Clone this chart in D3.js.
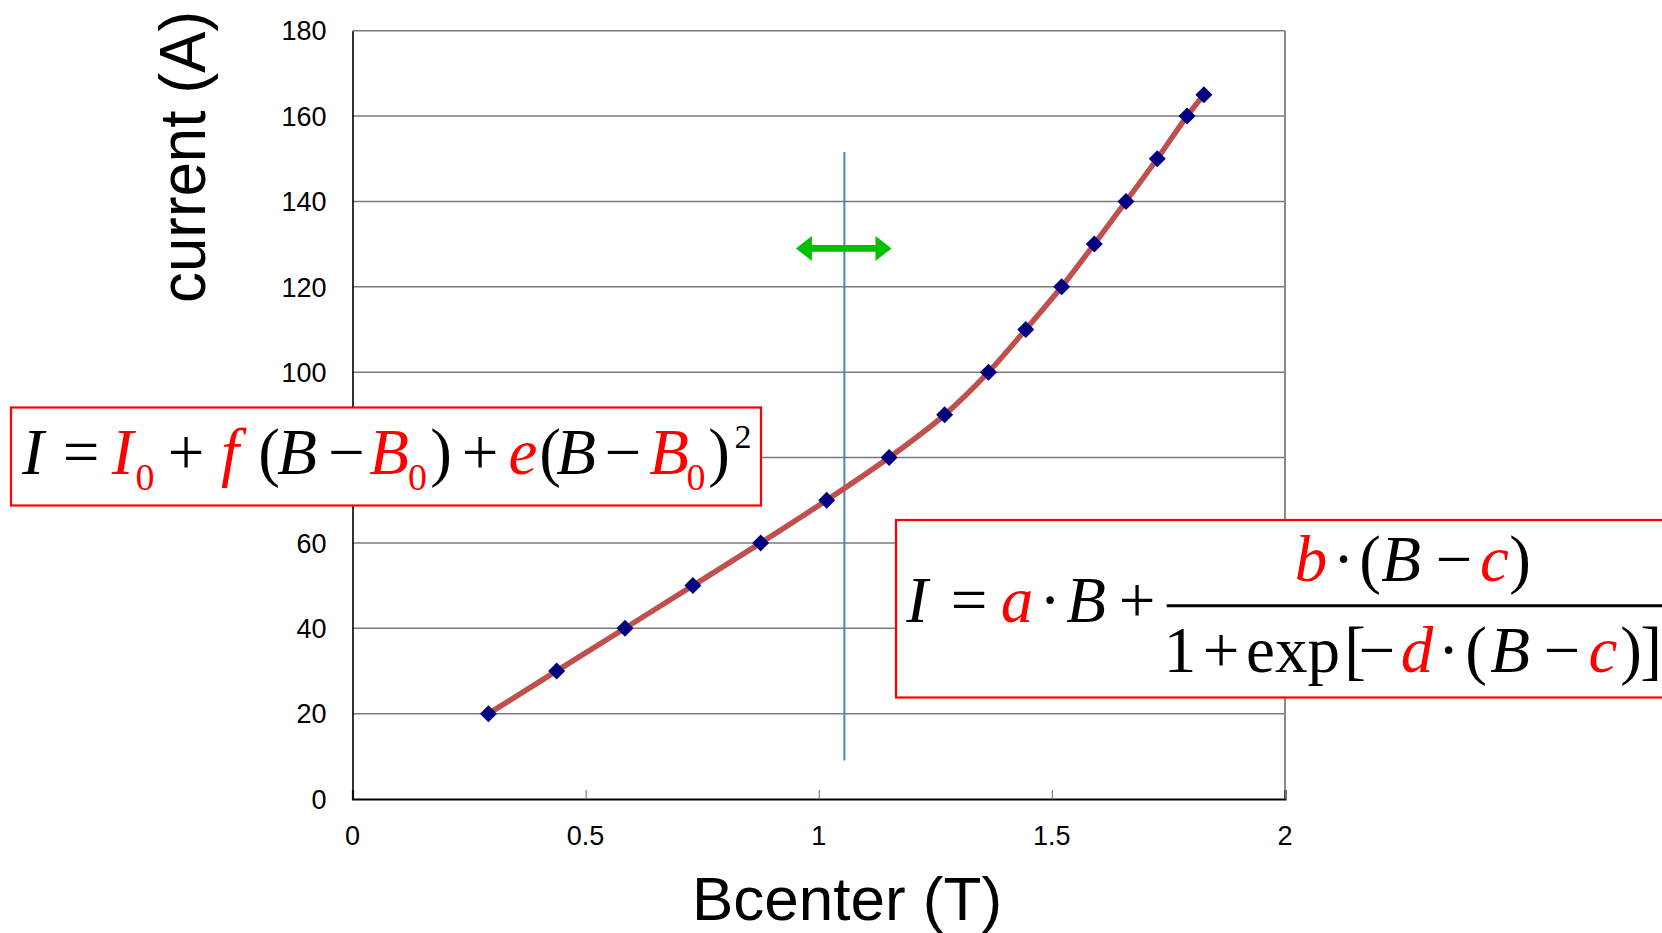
<!DOCTYPE html>
<html>
<head>
<meta charset="utf-8">
<script src="https://cdn.jsdelivr.net/npm/d3@7"></script>
<style>
  html, body { margin: 0; padding: 0; background: #ffffff; }
  svg { display: block; }
</style>
</head>
<body>
<svg id="chart" width="1662" height="933"></svg>
<script>
// Measured magnet excitation: field at centre (T) vs coil current (A)
const bCenter = [0.2915, 0.438, 0.5845, 0.730, 0.8755, 1.017, 1.151, 1.270,
                 1.364, 1.444, 1.521, 1.591, 1.659, 1.726, 1.790, 1.826];
const current = [20, 30, 40, 50, 60, 70, 80, 90,
                 100, 110, 120, 130, 140, 150, 160, 165];

const xTicks = [0, 0.5, 1, 1.5, 2];
const yTicks = [0, 20, 40, 60, 80, 100, 120, 140, 160, 180];

// Boundary between the two fit regions, and the range it may move over
const boundaryB = 1.055;
const boundaryI = [9, 151.6];
const shiftRangeB = [0.951, 1.156];
const shiftLevelI = 129;

const xTitle = "Bcenter (T)";
const yTitle = "current (A)";

const svg = d3.select("#chart");
const plot = { left: 352.5, right: 1285, top: 30.7, bottom: 799 };

const x = d3.scaleLinear().domain([0, 2]).range([plot.left, plot.right]);
const y = d3.scaleLinear().domain([0, 180]).range([plot.bottom, plot.top]);

const sans = "'Liberation Sans', Arial, sans-serif";
const serif = "'Liberation Serif', 'Times New Roman', serif";

// Horizontal gridlines
svg.append("g")
  .selectAll("line")
  .data(yTicks.filter(d => d > 0))
  .join("line")
  .attr("x1", plot.left).attr("x2", plot.right)
  .attr("y1", d => y(d)).attr("y2", d => y(d))
  .attr("stroke", "#7a7a7a").attr("stroke-width", 1.5);

// Right frame edge
svg.append("line")
  .attr("x1", plot.right).attr("x2", plot.right)
  .attr("y1", plot.top).attr("y2", plot.bottom)
  .attr("stroke", "#8c8c8c").attr("stroke-width", 2);

// Bottom axis with short inward ticks
const xAxis = svg.append("g")
  .attr("transform", `translate(0,${plot.bottom})`)
  .call(d3.axisBottom(x).tickValues(xTicks).tickSize(-9).tickFormat(""));
xAxis.select(".domain").attr("stroke", "#000").attr("stroke-width", 2.2);
xAxis.selectAll(".tick line").attr("stroke", "#7f7f7f").attr("stroke-width", 1.2);

// Left axis
const yAxis = svg.append("g")
  .attr("transform", `translate(${plot.left},0)`)
  .call(d3.axisLeft(y).tickValues(yTicks).tickSize(0).tickFormat(""));
yAxis.select(".domain").attr("stroke", "#000").attr("stroke-width", 1.6);

// Tick labels
svg.append("g")
  .selectAll("text")
  .data(yTicks)
  .join("text")
  .attr("x", plot.left - 26)
  .attr("y", d => y(d))
  .attr("dy", "0.36em")
  .attr("text-anchor", "end")
  .attr("font-family", sans).attr("font-size", 27)
  .attr("fill", "#000")
  .text(d => d);

svg.append("g")
  .selectAll("text")
  .data(xTicks)
  .join("text")
  .attr("x", d => x(d))
  .attr("y", 845)
  .attr("text-anchor", "middle")
  .attr("font-family", sans).attr("font-size", 27)
  .attr("fill", "#000")
  .text(d => d);

// Fit-region boundary
svg.append("line")
  .attr("x1", x(boundaryB)).attr("x2", x(boundaryB))
  .attr("y1", y(boundaryI[0])).attr("y2", y(boundaryI[1]))
  .attr("stroke", "#4f81bd").attr("stroke-width", 2);

// Double-headed arrow showing the boundary can move
(function drawArrow() {
  const x0 = x(shiftRangeB[0]), x1 = x(shiftRangeB[1]), yc = y(shiftLevelI);
  const head = 16, half = 12.5, shaft = 3.3;
  const p = [
    [x0, yc], [x0 + head, yc - half], [x0 + head, yc - shaft],
    [x1 - head, yc - shaft], [x1 - head, yc - half], [x1, yc],
    [x1 - head, yc + half], [x1 - head, yc + shaft], [x0 + head, yc + shaft],
    [x0 + head, yc + half]
  ];
  svg.append("path")
    .attr("d", "M" + p.map(d => d.join(",")).join("L") + "Z")
    .attr("fill", "#00c000");
})();

// Smoothed curve through measurements
const pts = bCenter.map((b, i) => [b, current[i]]);
svg.append("path")
  .datum(pts)
  .attr("d", d3.line().x(d => x(d[0])).y(d => y(d[1])).curve(d3.curveCatmullRom.alpha(0.5)))
  .attr("fill", "none")
  .attr("stroke", "#c0504d")
  .attr("stroke-width", 5.5)
  .attr("stroke-linejoin", "round")
  .attr("stroke-linecap", "round");

// Diamond markers
svg.append("g")
  .selectAll("path")
  .data(pts)
  .join("path")
  .attr("transform", d => `translate(${x(d[0])},${y(d[1])})`)
  .attr("d", "M0,-8.5L8.5,0L0,8.5L-8.5,0Z")
  .attr("fill", "#000080");

// Axis titles
svg.append("text")
  .attr("x", 847).attr("y", 920)
  .attr("text-anchor", "middle")
  .attr("font-family", sans).attr("font-size", 62)
  .attr("fill", "#000")
  .text(xTitle);

svg.append("text")
  .attr("transform", "translate(205,157) rotate(-90)")
  .attr("text-anchor", "middle")
  .attr("font-family", sans).attr("font-size", 64)
  .attr("textLength", 292).attr("lengthAdjust", "spacingAndGlyphs")
  .attr("fill", "#000")
  .text(yTitle);

// Equation boxes
const RED = "#ff0000", BLK = "#000000";
function writeTokens(g, tokens) {
  g.selectAll("text.tok")
    .data(tokens)
    .join("text")
    .attr("class", "tok")
    .attr("x", d => d.cx)
    .attr("y", d => d.by)
    .attr("text-anchor", "middle")
    .attr("font-family", serif)
    .attr("font-size", d => d.fs)
    .attr("font-style", d => d.it ? "italic" : "normal")
    .attr("fill", d => d.c)
    .text(d => d.t);
}

// Quadratic form  I = I0 + f(B - B0) + e(B - B0)^2
const eq1 = svg.append("g");
eq1.append("rect")
  .attr("x", 11).attr("y", 407.5).attr("width", 750).attr("height", 98)
  .attr("fill", "#fff").attr("stroke", RED).attr("stroke-width", 2.2);
const m1 = 474, s1 = 490, p1 = 448, F = 65, FS = 38, FP = 34;
writeTokens(eq1, [
  { t: "I", cx: 33, by: m1, fs: F, it: true, c: BLK },
  { t: "=", cx: 81, by: m1, fs: F, c: BLK },
  { t: "I", cx: 122.5, by: m1, fs: F, it: true, c: RED },
  { t: "0", cx: 145, by: s1, fs: FS, c: RED },
  { t: "+", cx: 186, by: m1, fs: F, c: BLK },
  { t: "f", cx: 230, by: m1, fs: F, it: true, c: RED },
  { t: "(", cx: 269, by: m1, fs: F, c: BLK },
  { t: "B", cx: 297, by: m1, fs: F, it: true, c: BLK },
  { t: "\u2212", cx: 346.7, by: m1, fs: F, c: BLK },
  { t: "B", cx: 389, by: m1, fs: F, it: true, c: RED },
  { t: "0", cx: 417.5, by: s1, fs: FS, c: RED },
  { t: ")", cx: 441, by: m1, fs: F, c: BLK },
  { t: "+", cx: 480, by: m1, fs: F, c: BLK },
  { t: "e", cx: 523, by: m1, fs: F, it: true, c: RED },
  { t: "(", cx: 550, by: m1, fs: F, c: BLK },
  { t: "B", cx: 576, by: m1, fs: F, it: true, c: BLK },
  { t: "\u2212", cx: 623, by: m1, fs: F, c: BLK },
  { t: "B", cx: 669, by: m1, fs: F, it: true, c: RED },
  { t: "0", cx: 696, by: s1, fs: FS, c: RED },
  { t: ")", cx: 719, by: m1, fs: F, c: BLK },
  { t: "2", cx: 743, by: p1, fs: FP, c: BLK }
]);

// Linear plus logistic form  I = a·B + b·(B-c) / (1 + exp[-d·(B-c)])
const eq2 = svg.append("g");
eq2.append("rect")
  .attr("x", 896).attr("y", 520).attr("width", 800).attr("height", 177.5)
  .attr("fill", "#fff").attr("stroke", RED).attr("stroke-width", 2.2);
eq2.append("line")
  .attr("x1", 1166.7).attr("x2", 1680)
  .attr("y1", 605.7).attr("y2", 605.7)
  .attr("stroke", BLK).attr("stroke-width", 3);
const m2 = 621.7, n2 = 581, d2 = 671.7;
writeTokens(eq2, [
  { t: "I", cx: 917, by: m2, fs: F, it: true, c: BLK },
  { t: "=", cx: 969, by: m2, fs: F, c: BLK },
  { t: "a", cx: 1017, by: m2, fs: F, it: true, c: RED },
  { t: "\u00b7", cx: 1050, by: m2, fs: F, c: BLK },
  { t: "B", cx: 1086, by: m2, fs: F, it: true, c: BLK },
  { t: "+", cx: 1137, by: m2, fs: F, c: BLK },
  { t: "b", cx: 1311, by: n2, fs: F, it: true, c: RED },
  { t: "\u00b7", cx: 1343.7, by: n2, fs: F, c: BLK },
  { t: "(", cx: 1370, by: n2, fs: F, c: BLK },
  { t: "B", cx: 1401, by: n2, fs: F, it: true, c: BLK },
  { t: "\u2212", cx: 1454, by: n2, fs: F, c: BLK },
  { t: "c", cx: 1494.5, by: n2, fs: F, it: true, c: RED },
  { t: ")", cx: 1520, by: n2, fs: F, c: BLK },
  { t: "1", cx: 1180, by: d2, fs: F, c: BLK },
  { t: "+", cx: 1221, by: d2, fs: F, c: BLK },
  { t: "exp", cx: 1293, by: d2, fs: F, c: BLK },
  { t: "[", cx: 1355, by: d2, fs: F, c: BLK },
  { t: "\u2212", cx: 1377, by: d2, fs: F, c: BLK },
  { t: "d", cx: 1417, by: d2, fs: F, it: true, c: RED },
  { t: "\u00b7", cx: 1448.7, by: d2, fs: F, c: BLK },
  { t: "(", cx: 1476, by: d2, fs: F, c: BLK },
  { t: "B", cx: 1510, by: d2, fs: F, it: true, c: BLK },
  { t: "\u2212", cx: 1562, by: d2, fs: F, c: BLK },
  { t: "c", cx: 1603, by: d2, fs: F, it: true, c: RED },
  { t: ")", cx: 1631, by: d2, fs: F, c: BLK },
  { t: "]", cx: 1651, by: d2, fs: F, c: BLK }
]);
</script>
</body>
</html>
